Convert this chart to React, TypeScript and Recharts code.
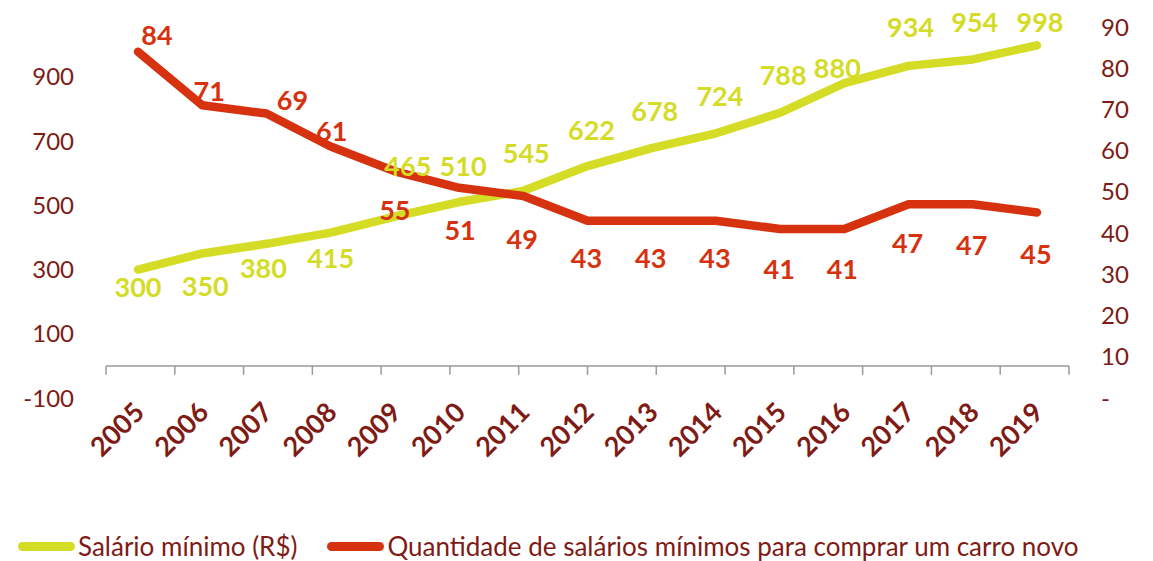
import React from 'react'
import { LabelList, Legend, Line, LineChart, ReferenceLine, XAxis, YAxis } from 'recharts'

const years = ['2005', '2006', '2007', '2008', '2009', '2010', '2011', '2012', '2013', '2014', '2015', '2016', '2017', '2018', '2019']
const salario = [300, 350, 380, 415, 465, 510, 545, 622, 678, 724, 788, 880, 934, 954, 998]
const carros = [84, 71, 69, 61, 55, 51, 49, 43, 43, 43, 41, 41, 47, 47, 45]
const leftTicks = [-100, 100, 300, 500, 700, 900]
const rightTicks = [0, 10, 20, 30, 40, 50, 60, 70, 80, 90]

const salarioName = 'Salário mínimo (R$)'
const carrosName = 'Quantidade de salários mínimos para comprar um carro novo'
const legendOrder = ['salario', 'carros']

// where each data label sits relative to its point (dx, dy in px), as in the original
const salarioNudge = [
  [0, 17], [3, 32], [-3, 24], [0, 25], [13, -51], [4, -37], [3, -38], [4, -37],
  [3, -38], [4, -38], [3, -38], [-7, -16], [2, -39], [2, -38], [3, -24],
]
const carrosNudge = [
  [19, -17], [7, -15], [26, -14], [1, -16], [0, 38], [1, 42], [-1, 42], [-1, 37],
  [-1, 37], [-1, 37], [-1, 40], [-2, 40], [-1, 38], [-1, 40], [-1, 41],
]

const YELLOW = '#d4dc26'
const RED = '#d6320f'
const AXIS_TEXT = '#7e1b15'
const FONT = 'Lato, sans-serif'

const data = years.map((year, i) => ({ year, salario: salario[i], carros: carros[i] }))
const boundaries = [...years.map((_, i) => i), years.length]

const makeLabel = (nudge: number[][], color: string) => (props: any) => {
  const { x, y, value, index } = props
  const [dx, dy] = nudge[index] || [0, 0]
  return (
    <text
      x={x + dx}
      y={y + dy}
      textAnchor="middle"
      dominantBaseline="central"
      fill={color}
      fontSize={27}
      fontWeight={700}
      fontFamily={FONT}
    >
      {value}
    </text>
  )
}

const YearTick = (props: any) => {
  const { x, y, payload } = props
  const ax = x + 8
  const ay = y + 14
  return (
    <text
      x={ax}
      y={ay}
      transform={`rotate(-45 ${ax} ${ay})`}
      textAnchor="end"
      fill={AXIS_TEXT}
      fontSize={27}
      fontWeight={700}
      fontFamily={FONT}
    >
      {payload.value}
    </text>
  )
}

const LegendContent = (props: any) => {
  const { payload = [] } = props
  const items = legendOrder
    .map((key) => payload.find((p: any) => p.dataKey === key))
    .filter(Boolean)
  return (
    <div style={{ display: 'flex', alignItems: 'center', fontFamily: FONT, fontSize: 26, lineHeight: '26px', color: AXIS_TEXT }}>
      {items.map((entry: any) => (
        <div key={entry.value} style={{ display: 'flex', alignItems: 'center', marginRight: 30 }}>
          <span style={{ width: 57, height: 9, borderRadius: 5, background: entry.color, marginRight: 3 }} />
          <span>{entry.value}</span>
        </div>
      ))}
    </div>
  )
}

const App = () => {
  return (
    <div style={{ position: 'absolute', left: 0, top: 0, background: '#fff' }}>
      <LineChart width={1153} height={561} data={data} margin={{ top: 27, right: 0, bottom: 0, left: 0 }}>
        <XAxis
          dataKey="year"
          height={163}
          padding={{ left: 32, right: 32 }}
          axisLine={false}
          tickLine={false}
          tickSize={0}
          tick={<YearTick />}
          interval={0}
        />
        <XAxis xAxisId="num" type="number" domain={[0, years.length]} hide />
        <YAxis
          yAxisId="left"
          width={106}
          domain={[-100, 1055]}
          ticks={leftTicks}
          axisLine={false}
          tickLine={false}
          tickSize={0}
          tickMargin={32}
          tick={{ fill: AXIS_TEXT, fontSize: 24, fontFamily: FONT }}
        />
        <YAxis
          yAxisId="right"
          orientation="right"
          width={84}
          domain={[0, 90]}
          ticks={rightTicks}
          axisLine={false}
          tickLine={false}
          tickSize={0}
          tickMargin={32}
          tickFormatter={(v: number) => (v === 0 ? '-' : String(v))}
          tick={{ fill: AXIS_TEXT, fontSize: 24, fontFamily: FONT }}
        />
        <ReferenceLine xAxisId="num" yAxisId="left" y={0} stroke="#9a9a9a" strokeWidth={1.5} />
        {boundaries.map((b) => (
          <ReferenceLine
            key={b}
            xAxisId="num"
            yAxisId="left"
            segment={[{ x: b, y: 0 }, { x: b, y: -28 }]}
            stroke="#9a9a9a"
            strokeWidth={1.5}
          />
        ))}
        <Line
          yAxisId="left"
          dataKey="salario"
          name={salarioName}
          stroke={YELLOW}
          strokeWidth={8.5}
          strokeLinecap="round"
          strokeLinejoin="round"
          dot={false}
          activeDot={false}
          isAnimationActive={false}
        >
          <LabelList dataKey="salario" content={makeLabel(salarioNudge, YELLOW)} />
        </Line>
        <Line
          yAxisId="right"
          dataKey="carros"
          name={carrosName}
          stroke={RED}
          strokeWidth={8.5}
          strokeLinecap="round"
          strokeLinejoin="round"
          dot={false}
          activeDot={false}
          isAnimationActive={false}
        >
          <LabelList dataKey="carros" content={makeLabel(carrosNudge, RED)} />
        </Line>
        <Legend
          layout="horizontal"
          verticalAlign="middle"
          align="center"
          wrapperStyle={{ top: 533, left: 18, width: 1130 }}
          content={<LegendContent />}
        />
      </LineChart>
    </div>
  )
}

export default App
